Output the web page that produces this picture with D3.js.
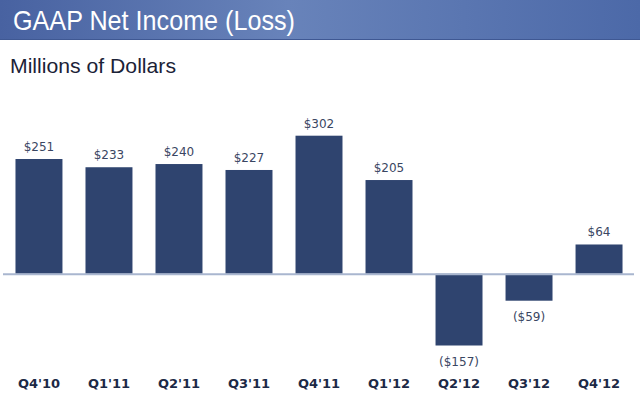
<!DOCTYPE html>
<html>
<head>
<meta charset="utf-8">
<script src="https://cdn.jsdelivr.net/npm/d3@7"></script>
<style>
  html, body { margin: 0; padding: 0; background: #fff; }
  svg { display: block; }
</style>
</head>
<body>
<svg width="640" height="399"></svg>
<script>
// data
var quarters = ["Q4'10", "Q1'11", "Q2'11", "Q3'11", "Q4'11", "Q1'12", "Q2'12", "Q3'12", "Q4'12"];
var netIncome = [251, 233, 240, 227, 302, 205, -157, -59, 64];
var valueLabels = ["$251", "$233", "$240", "$227", "$302", "$205", "($157)", "($59)", "$64"];

var svg = d3.select("svg"),
    width = +svg.attr("width"),
    height = +svg.attr("height");

// header band
var defs = svg.append("defs");
var grad = defs.append("linearGradient")
    .attr("id", "hdr")
    .attr("x1", "0%").attr("x2", "100%")
    .attr("y1", "0%").attr("y2", "0%");
grad.append("stop").attr("offset", "0%").attr("stop-color", "#4862a1");
grad.append("stop").attr("offset", "45%").attr("stop-color", "#6883ba");
grad.append("stop").attr("offset", "100%").attr("stop-color", "#4c69a8");

svg.append("rect")
    .attr("x", 0).attr("y", 0)
    .attr("width", width).attr("height", 40)
    .attr("fill", "url(#hdr)");
svg.append("rect")
    .attr("x", 0).attr("y", 39)
    .attr("width", width).attr("height", 1)
    .attr("fill", "#3f5893");

svg.append("text")
    .attr("x", 13).attr("y", 30)
    .attr("fill", "#ffffff")
    .style("font-family", "'Liberation Sans', Arial, sans-serif")
    .style("font-size", "28px")
    .attr("textLength", 282)
    .attr("lengthAdjust", "spacingAndGlyphs")
    .text("GAAP Net Income (Loss)");

svg.append("text")
    .attr("x", 10).attr("y", 73)
    .attr("fill", "#1b2237")
    .style("font-family", "'Liberation Sans', Arial, sans-serif")
    .style("font-size", "21px")
    .attr("textLength", 166)
    .attr("lengthAdjust", "spacingAndGlyphs")
    .text("Millions of Dollars");

// scales
var x = d3.scaleBand()
    .domain(quarters)
    .range([4, 634])
    .paddingInner(0.329)
    .paddingOuter(0.164);

var y = d3.scaleLinear()
    .domain([-157, 302])
    .range([345.5, 135.7]);

var data = quarters.map(function(q, i) {
    return {q: q, v: netIncome[i], label: valueLabels[i]};
});

// bars
svg.append("g")
    .attr("class", "bars")
    .selectAll("rect")
    .data(data)
    .enter().append("rect")
    .attr("x", function(d) { return x(d.q); })
    .attr("width", x.bandwidth())
    .attr("y", function(d) { return d.v >= 0 ? y(d.v) : y(0); })
    .attr("height", function(d) { return Math.abs(y(d.v) - y(0)); })
    .attr("fill", "#2f446f");

// zero line
svg.append("line")
    .attr("x1", 3).attr("x2", 634)
    .attr("y1", y(0) + 0.5).attr("y2", y(0) + 0.5)
    .attr("stroke", "#a9b6cf")
    .attr("stroke-width", 2);

// value labels
svg.append("g")
    .attr("class", "values")
    .selectAll("text")
    .data(data)
    .enter().append("text")
    .attr("x", function(d) { return x(d.q) + x.bandwidth() / 2; })
    .attr("y", function(d) { return d.v >= 0 ? y(d.v) - 8 : y(d.v) + 20; })
    .attr("text-anchor", "middle")
    .attr("fill", "#3a4662")
    .style("font-family", "'DejaVu Sans', Verdana, sans-serif")
    .style("font-size", "12px")
    .text(function(d) { return d.label; });

// category labels
svg.append("g")
    .attr("class", "cats")
    .selectAll("text")
    .data(data)
    .enter().append("text")
    .attr("x", function(d) { return x(d.q) + x.bandwidth() / 2; })
    .attr("y", 388)
    .attr("text-anchor", "middle")
    .attr("fill", "#1c2946")
    .style("font-family", "'DejaVu Sans', Verdana, sans-serif")
    .style("font-weight", "bold")
    .style("font-size", "13px")
    .text(function(d) { return d.q; });
</script>
</body>
</html>
